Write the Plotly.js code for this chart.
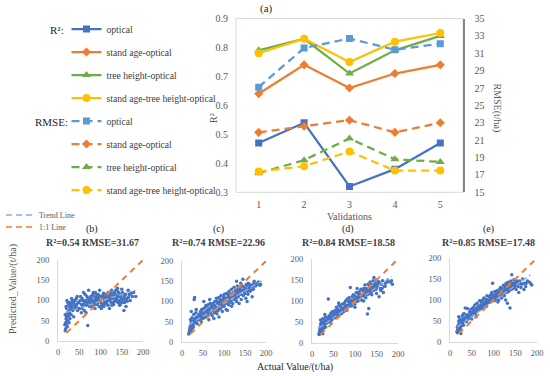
<!DOCTYPE html>
<html>
<head>
<meta charset="utf-8">
<script src="https://cdn.plot.ly/plotly-3.0.1.min.js"></script>
<style>html,body{margin:0;padding:0;background:#fff}#chart{width:550px;height:376px}</style>
</head>
<body>
<div id="chart"></div>
<script>
// ---------------- DATA ----------------
const validations = [1, 2, 3, 4, 5];
const seriesNames = ["optical", "stand age-optical", "tree height-optical", "stand age-tree height-optical"];
// R² (left axis)
const r2Optical = [0.47, 0.54, 0.32, 0.38, 0.47];
const r2StandAge = [0.64, 0.74, 0.66, 0.71, 0.74];
const r2TreeHeight = [0.79, 0.83, 0.71, 0.79, 0.84];
const r2StandAgeTreeHeight = [0.78, 0.83, 0.75, 0.82, 0.85];
// RMSE (right axis, t/ha)
const rmseOptical = [27.1, 31.6, 32.7, 31.4, 32.1];
const rmseStandAge = [21.9, 22.6, 23.3, 21.9, 23.0];
const rmseTreeHeight = [17.2, 18.7, 21.2, 18.8, 18.5];
const rmseStandAgeTreeHeight = [17.4, 18.0, 19.7, 17.5, 17.5];

const panelLabels = ["(b)", "(c)", "(d)", "(e)"];
const panelTitles = ["R²=0.54 RMSE=31.67", "R²=0.74 RMSE=22.96", "R²=0.84 RMSE=18.58", "R²=0.85 RMSE=17.48"];
const scatterTicks = [0, 50, 100, 150, 200];
const oneToOneX = [20, 200];
const oneToOneY = [20, 200];

// (b) optical
const bActual = [17,18,18,19,20,20,21,22,22,23,24,25,26,27,28,29,30,32,33,35,36,38,40,42,45,47,50,52,55,57,58,60,62,65,67,68,70,72,73,75,78,80,82,84,85,87,88,90,92,93,95,97,98,100,101,102,104,105,106,108,110,112,113,115,116,118,120,121,122,124,125,126,128,130,131,132,134,135,136,138,140,141,142,144,145,146,148,150,152,153,155,156,158,160,162,165,168,170,175,183,150,140,130,118,110,95,85,76,66,62,55,48,44,37,31,26,20,
  16,17,19,21,23,25,27,30,34,39,43,46,49,53,56,59,61,64,69,71,74,77,79,81,83,86,89,91,94,96,99,103,107,109,111,114,117,119,123,127,129,133,137,139,143,147,149,151,154,157,159,163,166,172,178,145,135,125,115,105];
const bPredicted = [25,30,45,55,60,80,100,70,35,50,65,90,75,85,55,95,80,105,85,75,95,90,100,85,110,95,80,100,90,105,85,120,95,100,88,110,38,125,100,90,105,85,115,100,95,80,120,100,90,110,105,85,125,100,95,80,110,90,105,85,100,115,95,90,105,120,110,80,100,115,95,125,105,110,90,120,100,115,125,105,110,95,120,100,115,90,108,102,95,118,75,110,100,85,105,125,115,100,110,110,128,130,95,88,95,115,110,95,70,75,70,80,90,60,65,45,40,
  40,65,85,50,95,60,70,90,100,80,105,75,95,110,80,100,90,115,95,105,85,110,95,100,120,90,105,115,95,100,110,88,118,92,108,98,112,100,105,88,112,108,98,125,110,95,115,120,105,95,115,98,108,118,120,88,108,118,100,112];
// (c) stand age-optical
const cActual = [17,18,19,20,20,21,22,22,23,24,25,26,27,28,29,30,31,32,33,35,36,38,40,42,44,45,47,48,50,52,53,55,56,58,60,62,63,65,66,68,70,72,73,75,77,78,80,82,83,85,86,88,90,92,93,95,96,98,100,101,102,104,105,106,108,110,111,112,114,115,116,118,120,121,122,124,125,126,128,130,131,132,134,135,136,138,140,141,142,144,145,146,148,150,152,153,155,157,158,160,162,165,167,170,172,175,180,185,108,96,88,76,64,57,46,34,26,140,130,118,155,
  16,18,19,21,23,25,27,30,34,37,41,43,46,49,51,54,57,59,61,64,67,69,71,74,76,79,81,84,87,89,91,94,97,99,103,107,109,113,117,119,123,127,129,133,137,139,143,147,149,151,154,156,159,161,164,168,171,176,182,187];
const cPredicted = [22,30,25,40,55,35,48,75,28,60,45,52,38,68,105,110,58,50,72,62,45,55,68,60,75,58,80,65,72,100,60,85,70,62,78,92,68,82,105,75,88,65,95,80,72,100,85,108,70,95,78,110,90,82,115,98,75,105,88,118,95,108,80,120,100,112,92,125,105,118,98,130,110,95,122,135,105,115,128,100,120,138,112,125,95,132,118,105,140,128,155,115,135,125,108,142,130,118,145,135,125,140,112,130,150,138,145,140,78,100,62,58,55,90,50,80,35,145,150,88,100,
  20,26,35,30,42,38,45,55,48,62,55,70,65,58,82,68,75,88,72,80,95,70,85,78,92,88,75,100,85,98,105,92,88,112,100,95,118,110,102,120,112,125,108,130,118,125,138,128,120,132,140,125,130,142,128,135,145,140,148,142];
// (d) tree height-optical
const dActual = [17,18,19,20,20,21,22,22,23,24,25,26,27,28,29,30,31,32,33,35,36,38,39,40,42,44,45,47,48,50,52,54,55,57,58,60,62,63,65,67,68,70,72,73,75,77,78,80,82,83,85,86,88,89,90,92,93,95,96,98,99,100,102,103,104,106,107,108,110,111,112,114,115,116,118,119,120,122,123,124,125,126,128,129,130,131,132,133,134,135,136,138,139,140,142,143,144,145,147,148,150,152,154,156,158,160,163,166,170,175,185,62,45,55,100,120,30,25,105,150,
  16,18,19,21,23,25,27,30,34,37,41,43,46,49,51,54,57,59,61,64,67,69,71,74,76,79,81,84,87,89,91,94,97,99,103,107,109,113,117,119,123,127,129,133,137,139,143,147,149,151,154,156,159,161,164,168,171,176,182,187];
const dPredicted = [20,28,35,45,55,25,38,50,30,42,58,35,48,40,55,45,62,38,52,48,60,105,55,65,50,70,58,62,75,68,60,78,72,85,65,80,75,90,70,85,78,92,82,75,95,88,100,90,105,85,98,108,95,132,102,88,110,100,115,105,92,112,98,120,108,100,118,110,122,105,115,128,112,102,125,118,130,115,138,122,108,130,120,69,140,125,82,118,135,145,128,140,115,132,148,125,156,138,142,130,150,135,145,110,140,125,130,120,135,145,148,95,72,60,85,100,68,22,130,118,
  22,30,38,28,45,40,35,52,48,58,50,62,55,60,70,62,68,75,65,72,78,70,80,75,85,82,78,90,88,95,92,98,102,95,105,100,110,108,115,112,118,122,115,125,120,128,132,135,128,140,138,145,130,140,148,135,142,150,145,140];
// (e) stand age-tree height-optical
const eActual = [17,18,19,20,20,21,22,22,23,24,25,26,27,28,29,30,31,32,33,35,36,38,39,40,42,44,45,47,48,50,52,53,55,57,58,60,62,63,65,67,68,70,72,73,75,77,78,80,82,83,85,86,88,90,91,93,95,96,98,99,100,102,103,104,106,107,108,110,111,112,114,115,116,118,119,120,122,123,124,125,126,128,129,130,131,132,133,134,135,136,138,139,140,141,142,143,144,145,147,148,150,152,154,156,158,160,163,166,170,175,188,60,50,30,75,90,110,25,128,
  16,17,19,21,22,24,26,28,31,34,37,41,44,47,50,54,56,59,62,65,68,70,73,76,78,81,84,86,89,92,95,97,100,103,105,108,112,115,118,121,124,127,130,133,136,139,142,145,148,150,153,156,160,163,167,171,174,178,183,186];
const ePredicted = [22,30,40,50,60,28,35,45,55,32,42,38,50,62,45,55,40,68,50,81,58,48,65,80,55,62,72,60,78,70,65,82,75,88,68,80,92,75,85,78,98,88,95,80,100,90,105,95,85,102,110,92,100,108,95,112,102,118,140,105,112,98,120,108,115,102,122,110,118,100,125,112,130,118,105,128,115,135,120,110,132,125,140,118,135,92,128,142,120,138,81,130,145,125,160,135,140,128,148,135,140,125,145,132,118,140,130,138,125,140,136,60,55,65,85,95,95,20,100,
  25,35,30,42,38,48,40,45,55,52,60,58,65,62,68,75,70,72,80,78,85,80,88,82,90,92,85,98,95,100,105,98,108,102,110,105,115,112,118,120,115,125,122,130,128,125,135,138,130,142,135,140,145,138,150,140,132,145,142,138];

const actualSets = [bActual, cActual, dActual, eActual];
const predictedSets = [bPredicted, cPredicted, dPredicted, ePredicted];
// trend lines
const trendX = [[18, 182], [17, 190], [17, 185], [17, 185]];
const trendY = [[70, 126], [43, 151], [36, 158], [36, 160]];

// ---------------- STYLE ----------------
const W = 550, H = 376;
const px = v => v / W;
const py = v => 1 - v / H;
const serif = "Liberation Serif, Times New Roman, serif";
const grey = "#595959";
const cols = { blue: "#4472C4", lblue: "#5B9BD5", orange: "#ED7D31", green: "#70AD47", yellow: "#FFC000" };

function note(text, x, y, opts) {
  return Object.assign({
    text: text, x: px(x), y: py(y), xref: "paper", yref: "paper", showarrow: false,
    xanchor: "center", yanchor: "middle",
    font: { family: serif, size: 10, color: grey }
  }, opts || {});
}

const traces = [];
const r2Sets = [r2Optical, r2StandAge, r2TreeHeight, r2StandAgeTreeHeight];
const rmseSets = [rmseOptical, rmseStandAge, rmseTreeHeight, rmseStandAgeTreeHeight];
const r2Colors = [cols.blue, cols.orange, cols.green, cols.yellow];
const rmseColors = [cols.lblue, cols.orange, cols.green, cols.yellow];
const symbols = ["square", "diamond", "triangle-up", "circle"];
const sizes = [7, 7, 8, 8];

r2Sets.forEach((ys, i) => {
  traces.push({
    x: validations, y: ys, name: seriesNames[i], legendgroup: "r" + i,
    type: "scatter", mode: "lines+markers", xaxis: "x", yaxis: "y",
    line: { color: r2Colors[i], width: 2.25 },
    marker: { symbol: symbols[i], size: sizes[i], color: r2Colors[i] }
  });
});
rmseSets.forEach((ys, i) => {
  traces.push({
    x: validations, y: ys, name: seriesNames[i], legendgroup: "m" + i,
    type: "scatter", mode: "lines+markers", xaxis: "x", yaxis: "y2",
    line: { color: rmseColors[i], width: 2.25, dash: "8px,5px" },
    marker: { symbol: symbols[i], size: sizes[i], color: rmseColors[i] }
  });
});

// scatter panels
const domainsX = [[58, 143], [182, 266], [312, 398], [450, 537]];
const domainsY = [[341, 260], [342, 261], [343, 259], [342, 258]];
const titleCenters = [92, 218, 348, 488];

const layout = {
  width: W, height: H,
  margin: { l: 0, r: 0, t: 0, b: 0 },
  paper_bgcolor: "#fff", plot_bgcolor: "rgba(0,0,0,0)",
  font: { family: serif, color: grey, size: 10 },
  showlegend: true,
  legend: {
    x: px(66.5), xanchor: "left", y: py(14.5), yanchor: "top",
    font: { family: serif, size: 9.6, color: "#404040" },
    traceorder: "grouped", tracegroupgap: 4, itemwidth: 30,
    bgcolor: "rgba(0,0,0,0)", borderwidth: 0
  },
  xaxis: {
    domain: [px(236), px(463)], range: [0.5, 5.5], tickvals: validations,
    showgrid: false, zeroline: false, showline: false, ticks: "",
    tickfont: { family: serif, size: 10, color: grey }, ticklabelstandoff: 5, anchor: "y"
  },
  yaxis: {
    domain: [py(192.3), py(18.5)], range: [0.3, 0.9], dtick: 0.1, tickformat: ".1f",
    showgrid: false, zeroline: false, showline: false, ticks: "",
    tickfont: { family: serif, size: 10, color: grey }, ticklabelstandoff: 7, anchor: "x"
  },
  yaxis2: {
    overlaying: "y", side: "right", range: [15, 35], tick0: 15, dtick: 2, anchor: "x",
    showgrid: false, zeroline: false, showline: true, linecolor: "#868686", linewidth: 1.5, ticks: "",
    tickfont: { family: serif, size: 10, color: grey }, ticklabelstandoff: 8
  },
  shapes: [
    { type: "rect", xref: "x domain", yref: "y domain", x0: 0, x1: 1, y0: 0, y1: 1,
      line: { color: "#D9D9D9", width: 1 }, layer: "below" },
    { type: "line", xref: "paper", yref: "paper", x0: px(6), x1: px(33), y0: py(215), y1: py(215),
      line: { color: "#8FAADC", width: 1.5, dash: "6px,4px" } },
    { type: "line", xref: "paper", yref: "paper", x0: px(6), x1: px(33), y0: py(227), y1: py(227),
      line: { color: cols.orange, width: 1.5, dash: "6px,4px" } }
  ],
  annotations: [
    note("(a)", 266, 9, { font: { family: serif, size: 11, color: "#262626" } }),
    note("R²:", 57, 29.5, { font: { family: serif, size: 11, color: "#262626" } }),
    note("RMSE:", 51.5, 121.5, { font: { family: serif, size: 11, color: "#262626" } }),
    note("R²", 213, 118, { textangle: -90 }),
    note("RMSE(t/ha)", 496.5, 108, { textangle: 90 }),
    note("Validations", 349.5, 216.5),
    note("Trend Line", 37, 215, { xanchor: "left", font: { family: serif, size: 8, color: grey } }),
    note("1:1 Line", 37, 227, { xanchor: "left", font: { family: serif, size: 8, color: grey } }),
    note("Predicted_Value/(t/ha)", 13, 289, { textangle: -90 }),
    note("Actual Value/(t/ha)", 295, 367, { font: { family: serif, size: 10, color: "#262626" } })
  ]
};

actualSets.forEach((xs, i) => {
  const n = i + 3;
  const xa = "x" + n, ya = "y" + n;
  traces.push({
    x: xs, y: predictedSets[i], type: "scatter", mode: "markers", xaxis: xa, yaxis: ya,
    showlegend: false, marker: { color: cols.blue, size: 3.5 }
  });
  traces.push({
    x: trendX[i], y: trendY[i], type: "scatter", mode: "lines", xaxis: xa, yaxis: ya,
    showlegend: false, line: { color: "#8FAADC", width: 1.5, dash: "5px,3px" }
  });
  traces.push({
    x: oneToOneX, y: oneToOneY, type: "scatter", mode: "lines", xaxis: xa, yaxis: ya,
    showlegend: false, line: { color: cols.orange, width: 2, dash: "6px,5px" }
  });
  const axCommon = {
    range: [0, 200], tickvals: scatterTicks, showgrid: false, zeroline: false,
    showline: true, linecolor: "#D9D9D9", linewidth: 1, ticks: "",
    tickfont: { family: serif, size: 8.5, color: grey }
  };
  layout["xaxis" + n] = Object.assign({}, axCommon, {
    domain: [px(domainsX[i][0]), px(domainsX[i][1])], anchor: ya, ticklabelstandoff: 3
  });
  layout["yaxis" + n] = Object.assign({}, axCommon, {
    domain: [py(domainsY[i][0]), py(domainsY[i][1])], anchor: xa, ticklabelstandoff: 6
  });
  layout.annotations.push(note(panelLabels[i], titleCenters[i], 229,
    { font: { family: serif, size: 10, color: "#262626" } }));
  layout.annotations.push(note("<b>" + panelTitles[i] + "</b>", titleCenters[i], 242.5,
    { font: { family: serif, size: 10, color: "#404040" } }));
});

Plotly.newPlot("chart", traces, layout, { staticPlot: true, displayModeBar: false });
</script>
</body>
</html>
